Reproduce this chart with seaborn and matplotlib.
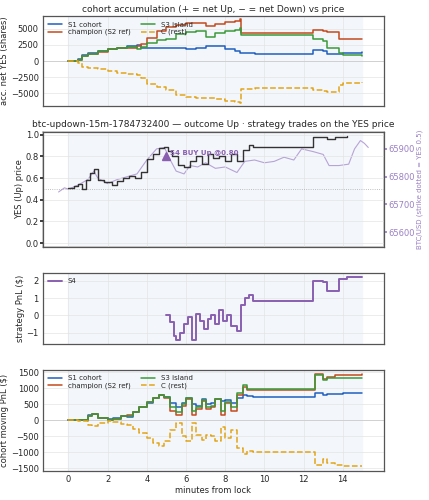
import numpy as np
import pandas as pd
import matplotlib
matplotlib.use("Agg")
import matplotlib.pyplot as plt
import seaborn as sns

sns.set_theme(style="whitegrid")
plt.rcParams['font.family'] = ['DejaVu Sans']

# ---- data ----
acc_t = [0, 0.3, 0.5, 0.7, 1.0, 1.5, 2.0, 2.5, 3.0, 3.5, 3.7, 4.0, 4.5, 5.0, 5.5, 6.0, 6.5, 7.0, 7.5, 8.0, 8.5, 8.75, 8.8, 9.5, 10.5, 11.5, 12.3, 12.5, 13.0, 13.2, 13.8, 14.0, 15.0]
acc_s1 = [0, 50, 300, 900, 1200, 1500, 1900, 2100, 2300, 2500, 2100, 2000, 2000, 2100, 2000, 1900, 2100, 2300, 2400, 1800, 1500, 1300, 1200, 1100, 1100, 1100, 1100, 1700, 1600, 1100, 1100, 1300, 1400]
acc_ch = [0, 50, 200, 800, 1100, 1400, 1800, 2000, 2100, 2300, 2600, 3600, 4600, 5300, 5600, 5900, 5900, 5500, 5800, 6000, 6200, 6600, 4300, 4300, 4300, 4300, 4300, 4800, 4700, 4500, 3400, 3400, 3400]
acc_s3 = [0, 50, 200, 800, 1100, 1500, 1900, 2100, 2200, 1900, 2200, 2800, 3200, 3500, 4200, 4500, 4600, 3800, 4300, 4600, 4900, 5200, 4000, 4000, 4000, 4000, 4000, 3500, 3100, 2000, 1200, 900, 850]
acc_c = [0, -50, -300, -900, -1100, -1300, -1600, -1800, -2000, -2100, -2700, -3500, -4000, -4500, -5200, -5600, -5800, -5800, -5900, -6200, -6400, -6500, -4300, -4200, -4200, -4200, -4200, -4500, -4700, -4800, -3700, -3400, -3300]

yes_t = [0, 0.3, 0.5, 0.7, 0.9, 1.1, 1.3, 1.5, 1.8, 2.2, 2.5, 2.8, 3.1, 3.4, 3.7, 4.0, 4.3, 4.6, 4.9, 5.1, 5.3, 5.6, 5.9, 6.2, 6.5, 6.8, 7.1, 7.4, 7.7, 8.0, 8.3, 8.6, 8.9, 9.2, 9.4, 12.3, 12.5, 13.0, 13.2, 13.6, 14.2]
yes_p = [0.51, 0.53, 0.55, 0.50, 0.58, 0.65, 0.68, 0.58, 0.56, 0.54, 0.57, 0.60, 0.62, 0.60, 0.66, 0.78, 0.82, 0.88, 0.89, 0.85, 0.80, 0.72, 0.70, 0.76, 0.80, 0.73, 0.82, 0.79, 0.80, 0.76, 0.82, 0.76, 0.86, 0.91, 0.89, 0.89, 0.98, 0.98, 0.96, 0.98, 0.99]
btc_t = [-0.5, -0.2, 0.0, 0.5, 1.0, 1.3, 1.5, 2.0, 2.5, 3.0, 3.5, 4.0, 4.5, 4.9, 5.2, 5.5, 5.9, 6.2, 6.6, 7.0, 7.5, 8.0, 8.6, 9.0, 9.5, 10.0, 10.5, 11.0, 11.5, 11.9, 12.5, 13.0, 13.3, 13.8, 14.3, 14.6, 14.9, 15.1, 15.3]
btc_v = [65745, 65760, 65755, 65770, 65790, 65820, 65795, 65775, 65790, 65800, 65810, 65860, 65900, 65905, 65860, 65820, 65810, 65840, 65835, 65850, 65830, 65835, 65815, 65855, 65860, 65850, 65855, 65870, 65860, 65900, 65890, 65880, 65840, 65840, 65845, 65900, 65930, 65920, 65905]

s4_t = [5.0, 5.2, 5.4, 5.5, 5.7, 5.9, 6.1, 6.3, 6.5, 6.7, 6.9, 7.1, 7.3, 7.5, 7.7, 7.9, 8.1, 8.3, 8.6, 8.8, 9.0, 9.2, 9.4, 12.3, 12.5, 13.0, 13.2, 13.8, 14.2, 15.0]
s4_pnl = [0.0, -0.4, -1.2, -1.4, -1.0, -0.5, -0.1, -1.4, 0.1, -0.3, -0.8, -0.2, 0.0, -0.5, 0.3, -0.3, 0.0, -0.6, -0.9, 0.6, 1.0, 1.2, 0.85, 0.85, 2.0, 1.9, 1.4, 2.1, 2.2, 2.2]

pnl_t = [0, 0.5, 1.0, 1.2, 1.5, 2.0, 2.3, 2.7, 3.0, 3.3, 3.6, 4.0, 4.3, 4.6, 4.9, 5.2, 5.5, 5.8, 6.0, 6.3, 6.5, 6.8, 7.0, 7.3, 7.5, 7.8, 8.0, 8.3, 8.6, 8.9, 9.1, 9.4, 12.4, 12.6, 13.0, 13.2, 13.6, 14.0, 15.0]
pnl_s1 = [0, 20, 150, 200, 80, 30, 60, 120, 100, 250, 400, 550, 700, 780, 720, 550, 400, 550, 680, 500, 450, 650, 500, 540, 650, 600, 620, 550, 700, 800, 750, 740, 740, 860, 800, 830, 830, 840, 840]
pnl_ch = [0, 20, 130, 180, 60, 0, 40, 120, 150, 270, 420, 580, 700, 800, 700, 300, 150, 450, 650, 150, 350, 600, 350, 400, 650, 150, 550, 300, 800, 1050, 950, 950, 950, 1450, 1300, 1350, 1400, 1400, 1450]
pnl_s3 = [0, 20, 140, 190, 70, 10, 50, 120, 130, 260, 400, 560, 700, 790, 710, 400, 250, 500, 680, 300, 400, 620, 400, 450, 650, 300, 580, 400, 850, 1100, 980, 980, 980, 1400, 1250, 1320, 1330, 1330, 1330]
pnl_c = [0, -20, -150, -190, -70, -10, -50, -120, -140, -260, -400, -560, -700, -790, -650, -300, -100, -500, -650, -100, -450, -600, -450, -500, -650, -200, -550, -300, -850, -1050, -950, -1000, -1000, -1400, -1200, -1330, -1400, -1420, -1430]

C_S1, C_CH, C_S3, C_C, C_S4 = "#1f5fbf", "#c44a1e", "#3a9a3a", "#e3a416", "#8a5fb0"
BG = "#f3f6fb"
FS = 6

fig, axes = plt.subplots(4, 1, figsize=(4.29, 5.0), dpi=100, sharex=True,
                         gridspec_kw=dict(height_ratios=[0.95, 1.22, 0.75, 1.07]))
fig.subplots_adjust(left=0.10, right=0.895, top=0.968, bottom=0.058, hspace=0.27)

for i, ax in enumerate(axes):
    ax.set_facecolor("white")
    if i != 1:
        ax.axvspan(0, 15, color=BG, zorder=0)
    ax.grid(True, color="#e4e4e4", lw=0.5)
    ax.tick_params(labelsize=FS, length=2, pad=1)
    for s in ax.spines.values():
        s.set_edgecolor("#555555"); s.set_linewidth(0.9)
    ax.set_xlim(-1.3, 16.1)

def steps(ax, t, v, color, label, ls="-", lw=1.1):
    sns.lineplot(x=t, y=v, ax=ax, drawstyle="steps-post", color=color, label=label,
                 linestyle=ls, lw=lw, estimator=None)

ax = axes[0]
ax.axhline(0, color="#cccccc", lw=0.6)
steps(ax, acc_t, acc_s1, C_S1, "S1 cohort")
steps(ax, acc_t, acc_ch, C_CH, "champion (S2 ref)")
steps(ax, acc_t, acc_s3, C_S3, "S3 island")
steps(ax, acc_t, acc_c, C_C, "C (rest)", ls="--")
ax.set_ylim(-7000, 7000)
ax.set_yticks([-5000, -2500, 0, 2500, 5000])
ax.set_ylabel("acc. net YES (shares)", fontsize=FS, labelpad=1)
ax.set_title("cohort accumulation (+ = net Up, − = net Down) vs price", fontsize=6.5, pad=3)
ax.legend(ncol=2, fontsize=5, loc="upper left", frameon=False, handlelength=2, columnspacing=1.5,
          labelspacing=0.2, borderpad=0.3)

ax = axes[1]
ax2 = ax.twinx()
ax2.axvspan(0, 15, color=BG, zorder=0)
sns.lineplot(x=btc_t, y=btc_v, ax=ax2, color="#b7a3d6", lw=0.8)
ax2.set_ylim(65546, 65962)
ax2.set_yticks([65600, 65700, 65800, 65900])
ax2.tick_params(labelsize=FS, colors="#9a80c4", length=2, pad=1)
ax2.set_ylabel("BTC/USD (strike dotted = YES 0.5)", fontsize=5, color="#9a80c4", labelpad=1)
ax2.grid(False)
ax.set_zorder(ax2.get_zorder() + 1); ax.patch.set_visible(False)
ax.axhline(0.5, color="#aaaaaa", lw=0.6, ls=":")
steps(ax, yes_t, yes_p, "#333333", None, lw=1.0)
ax.plot([5.0], [0.80], marker="^", color=C_S4, ms=6, ls="none")
ax.text(5.2, 0.81, "S4 BUY Up @0.80", fontsize=5, color=C_S4, fontweight="bold")
ax.set_ylim(-0.04, 1.03)
ax.set_ylabel("YES (Up) price", fontsize=FS, labelpad=1)
ax.set_title("btc-updown-15m-1784732400 — outcome Up · strategy trades on the YES price", fontsize=6.5, pad=3)

ax = axes[2]
steps(ax, s4_t, s4_pnl, C_S4, "S4", lw=1.4)
ax.set_ylim(-1.65, 2.45)
ax.set_yticks([-1, 0, 1, 2])
ax.set_ylabel("strategy PnL ($)", fontsize=FS, labelpad=1)
ax.legend(fontsize=5, loc="upper left", frameon=False, handlelength=2, borderpad=0.3)

ax = axes[3]
ax.axhline(0, color="#cccccc", lw=0.6)
steps(ax, pnl_t, pnl_s1, C_S1, "S1 cohort")
steps(ax, pnl_t, pnl_ch, C_CH, "champion (S2 ref)")
steps(ax, pnl_t, pnl_s3, C_S3, "S3 island")
steps(ax, pnl_t, pnl_c, C_C, "C (rest)", ls="--")
ax.set_ylim(-1580, 1580)
ax.set_yticks([-1500, -1000, -500, 0, 500, 1000, 1500])
ax.set_ylabel("cohort moving PnL ($)", fontsize=FS, labelpad=1)
ax.set_xlabel("minutes from lock", fontsize=FS, labelpad=1)
ax.set_xticks([0, 2, 4, 6, 8, 10, 12, 14])
ax.legend(ncol=2, fontsize=5, loc="upper left", frameon=False, handlelength=2, columnspacing=1.5,
          labelspacing=0.2, borderpad=0.3)

fig.savefig("out.png", dpi=100)
